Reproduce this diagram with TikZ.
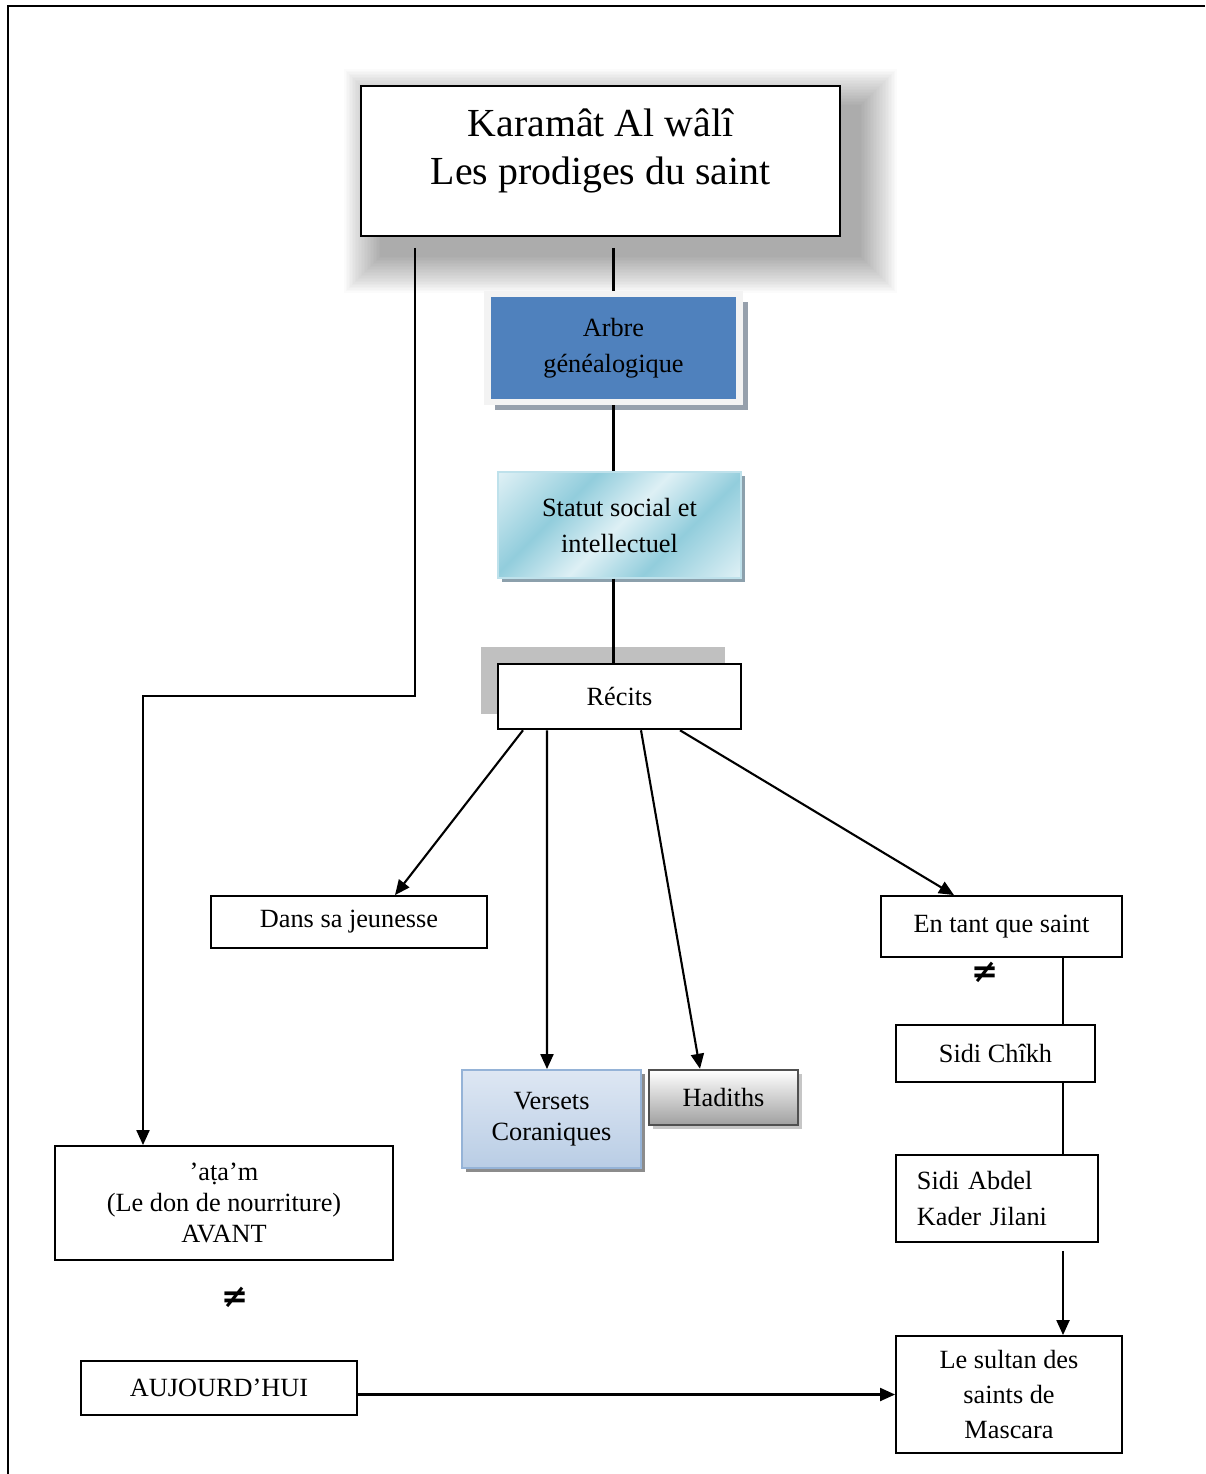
\documentclass[tikz,border=0pt]{standalone}
\usepackage{fontspec}
\setmainfont{Liberation Serif}
\newfontfamily\neqfont{DejaVu Sans}
\usetikzlibrary{arrows.meta,shadows,backgrounds,calc}
\definecolor{arbreBlue}{RGB}{79,129,189}
\definecolor{arbreFrame}{RGB}{243,243,243}
\definecolor{arbreShadow}{RGB}{150,160,172}
\definecolor{statutDark}{RGB}{146,205,220}
\definecolor{statutLight}{RGB}{222,240,245}
\definecolor{statutEdge}{RGB}{190,225,235}
\definecolor{statutShadow}{RGB}{140,160,172}
\definecolor{versetsTop}{RGB}{222,231,243}
\definecolor{versetsBottom}{RGB}{185,205,229}
\definecolor{versetsEdge}{RGB}{149,179,215}
\definecolor{hadithsBottom}{RGB}{160,160,160}
\definecolor{hadithsEdge}{RGB}{80,80,80}
\definecolor{recitsGray}{RGB}{192,192,192}
\newcommand{\diagfont}{\fontsize{18.7}{25.6}\selectfont}
\newcommand{\diagtightfont}{\fontsize{18.7}{22}\selectfont}
\newcommand{\diagtitlefont}{\fontsize{28.3}{34}\selectfont}
\pgfdeclarehorizontalshading{statutBands}{100bp}{color(0bp)=(statutLight); color(15bp)=(statutLight); color(35bp)=(statutDark); color(50bp)=(statutLight); color(65bp)=(statutDark); color(85bp)=(statutLight); color(100bp)=(statutLight)}

\begin{document}
\begin{tikzpicture}[x=0.025cm,y=-0.025cm,
  box/.style={draw,line width=1.3pt,fill=white,inner sep=0pt,align=center,font=\diagfont},
  link/.style={line width=1.5pt},
  arrow/.style={link,-{Triangle[length=0.375cm,width=0.325cm]}},
  neq/.style={font=\neqfont\bfseries\fontsize{23}{23}\selectfont,inner sep=0pt}]
\useasboundingbox (0,0) rectangle (1205,1474);
% page frame
\draw[line width=1.5pt] (8,1474) -- (8,6) -- (1205,6);

% header
\node[box,minimum width=11.975cm,minimum height=3.75cm,
  label={[font=\diagtitlefont,align=center,yshift=0.25cm]center:{Karamât Al wâlî\\Les prodiges du saint}}] (title) at (600.5,161) {};
\begin{scope}[on background layer]
  \foreach \r in {0,1.5,...,36}
    \fill[black,opacity=0.017] ([shift={(20-\r,20-\r)}]title.north west) rectangle ([shift={(20+\r,20+\r)}]title.south east);
\end{scope}

% central column
\node[box,fill=arbreBlue,draw=arbreFrame,line width=0.1625cm,minimum width=6.3cm,minimum height=2.7cm,
  drop shadow={shadow xshift=0.2cm,shadow yshift=-0.2cm,fill=arbreShadow,opacity=1}] (arbre) at (613.5,348) {Arbre\\généalogique};
\node[box,draw=statutEdge,line width=0.8pt,shade,shading=statutBands,shading angle=-45,minimum width=6.075cm,minimum height=2.65cm,
  drop shadow={shadow xshift=0.1cm,shadow yshift=-0.1cm,fill=statutShadow,opacity=1}] (statut) at (619.5,525) {Statut social et\\intellectuel};
\node[box,line width=1.8pt,minimum width=6.075cm,minimum height=1.625cm] (recits) at (619.5,696.5) {Récits};
\begin{scope}[on background layer]
  \fill[recitsGray] ([shift={(-16,-16)}]recits.north west) rectangle ([shift={(-17,-16)}]recits.south east);
\end{scope}

% sources
\node[box,minimum width=6.9cm,minimum height=1.3cm] (dans) at (349,922) {Dans sa jeunesse};
\node[box,draw=versetsEdge,top color=versetsTop,bottom color=versetsBottom,font=\diagtightfont,minimum width=4.475cm,minimum height=2.45cm,
  drop shadow={shadow xshift=0.1cm,shadow yshift=-0.1cm,fill=gray!90,opacity=1}] (versets) at (551.5,1119) {Versets\\Coraniques};
\node[box,draw=hadithsEdge,line width=1.7pt,top color=white,bottom color=hadithsBottom,minimum width=3.725cm,minimum height=1.375cm,
  drop shadow={shadow xshift=0.1cm,shadow yshift=-0.1cm,fill=gray!45,opacity=1}] (hadiths) at (723.5,1097.5) {Hadiths};

% saints
\node[box,minimum width=6.025cm,minimum height=1.525cm] (entant) at (1001.5,926.5) {En tant que saint};
\node[neq] (neqsaint) at (985,972) {≠};
\node[box,minimum width=4.975cm,minimum height=1.425cm] (chikh) at (995.5,1053.5) {Sidi Chîkh};
\node[box,align=left,text width=4cm,minimum width=5.05cm,minimum height=2.175cm] (abdel) at (997,1198.5) {Sidi Abdel\\Kader Jilani};
\node[box,font=\fontsize{18.7}{25.2}\selectfont,minimum width=5.65cm,minimum height=2.925cm] (sultan) at (1009,1394.5) {Le sultan des\\saints de\\Mascara};

% food gift
\node[box,font=\diagtightfont,minimum width=8.45cm,minimum height=2.85cm] (atam) at (224,1203) {’a\d{t}a’m\\(Le don de nourriture)\\AVANT};
\node[neq] (neqtime) at (235,1297) {≠};
\node[box,minimum width=6.9cm,minimum height=1.35cm] (aujourd) at (219,1388) {AUJOURD’HUI};

% connectors
\draw[link] ($(title.south -| arbre.north)+(0,11)$) -- (arbre.north);
\draw[link] (arbre.south) -- (arbre.south |- statut.north);
\draw[link] (statut.south -| arbre.south) -- (recits.north -| arbre.south);
\coordinate (avantbend) at (143,696);
\draw[arrow] ([shift={(-185.5,11)}]title.south) |- (avantbend) -- (avantbend |- atam.north);
\draw[arrow] ([xshift=-2.4125cm]recits.south) -- ([xshift=1.15cm]dans.north);
\draw[arrow] ([xshift=-1.8125cm]recits.south) -- ([xshift=-0.1125cm]versets.north);
\draw[arrow] ([xshift=0.5375cm]recits.south) -- ([xshift=-0.5875cm]hadiths.north);
\draw[arrow] ([xshift=1.5125cm]recits.south) -- ([xshift=-1.1875cm]entant.north);
\coordinate (sainttrunk) at ([xshift=1.5375cm]entant.south);
\draw[link] (sainttrunk) -- (sainttrunk |- chikh.north);
\draw[link] (sainttrunk |- chikh.south) -- (sainttrunk |- abdel.north);
\draw[arrow] ($(sainttrunk |- abdel.south)+(0,8)$) -- (sainttrunk |- sultan.north);
\draw[arrow] (aujourd.east |- sultan.west) -- (sultan.west);
\end{tikzpicture}
\end{document}
